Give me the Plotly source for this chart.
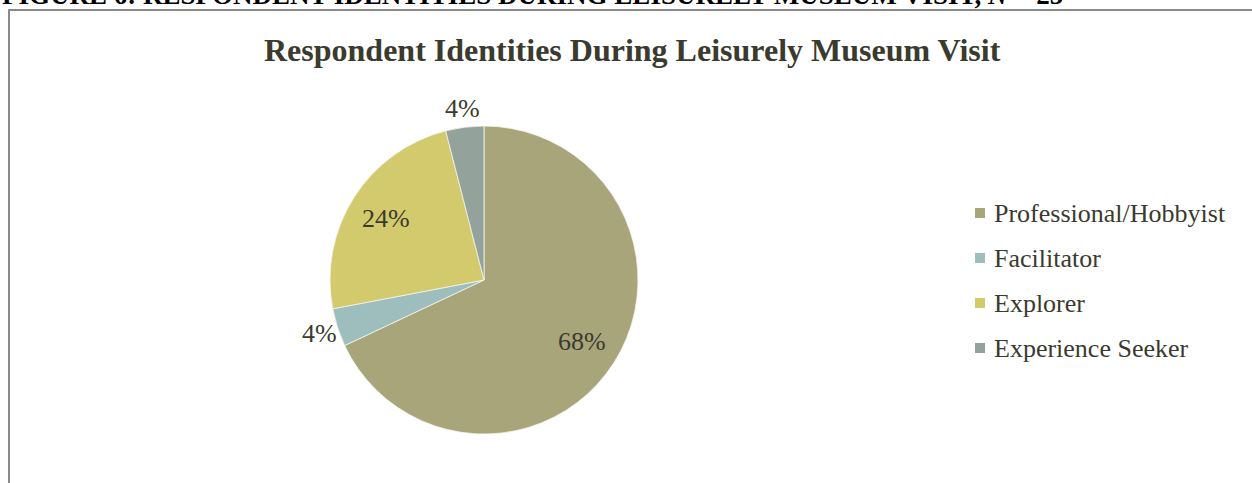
import math
import plotly.graph_objects as go

# Respondent identities (n = 25)
identities = ["Professional/Hobbyist", "Facilitator", "Explorer", "Experience Seeker"]
counts = [17, 1, 6, 1]
slice_colors = ["#A8A57B", "#9EBEBE", "#D2CA6C", "#93A29B"]
label_inside = [True, False, True, False]

W, H = 1252, 483
SERIF = "Liberation Serif, Times New Roman, serif"
TEXT_COLOR = "#3A3A2E"

# Pie placement in page pixels
CX, CY, R = 484, 280, 154


def px_x(x):
    return x / W


def px_y(y):
    return 1 - y / H


fig = go.Figure()
fig.add_trace(go.Pie(
    labels=identities,
    values=counts,
    sort=False,
    direction="clockwise",
    rotation=0,
    marker=dict(colors=slice_colors, line=dict(color="#F4F4EC", width=0.8)),
    textinfo="none",
    domain=dict(x=[px_x(CX - R), px_x(CX + R)], y=[px_y(CY + R), px_y(CY - R)]),
    hoverinfo="label+percent",
    showlegend=False,
))

annotations = []

# Percentage labels placed along each slice's mid-angle
total = sum(counts)
start = 0.0
for value, inside in zip(counts, label_inside):
    share = value / total
    mid = (start + share / 2) * 2 * math.pi  # clockwise from 12 o'clock
    dist = 0.75 * R if inside else 1.125 * R
    lx = CX + dist * math.sin(mid)
    ly = CY - dist * math.cos(mid)
    annotations.append(dict(
        text=f"{round(share * 100)}%",
        x=px_x(lx), y=px_y(ly), xref="paper", yref="paper",
        xanchor="center", yanchor="middle", showarrow=False,
        font=dict(family=SERIF, size=26, color=TEXT_COLOR),
    ))
    start += share

# Legend: colour swatch and label per identity
shapes = []
LEG_X, LEG_Y0, LEG_DY, SW = 975, 213, 45, 10
for i, (name, color) in enumerate(zip(identities, slice_colors)):
    cy = LEG_Y0 + i * LEG_DY
    shapes.append(dict(
        type="rect", xref="paper", yref="paper",
        x0=px_x(LEG_X), x1=px_x(LEG_X + SW),
        y0=px_y(cy + SW / 2), y1=px_y(cy - SW / 2),
        fillcolor=color, line=dict(width=0),
    ))
    annotations.append(dict(
        text=name, x=px_x(LEG_X + SW + 7), y=px_y(cy), xref="paper", yref="paper",
        xanchor="left", yanchor="middle", showarrow=False,
        font=dict(family=SERIF, size=26, color=TEXT_COLOR),
    ))

# Chart frame
shapes.append(dict(
    type="rect", xref="paper", yref="paper",
    x0=px_x(9), x1=px_x(1262), y0=px_y(500), y1=px_y(10),
    line=dict(color="#8A8A8A", width=2), fillcolor="rgba(0,0,0,0)",
    layer="below",
))

annotations += [
    dict(
        text="<b>Respondent Identities During Leisurely Museum Visit</b>",
        x=px_x(632), y=px_y(50), xref="paper", yref="paper",
        xanchor="center", yanchor="middle", showarrow=False,
        font=dict(family=SERIF, size=32, color=TEXT_COLOR),
    ),
    dict(
        text="<b>FIGURE 6: RESPONDENT IDENTITIES DURING LEISURELY MUSEUM VISIT, <i>N</i> = 25</b>",
        x=px_x(0), y=px_y(12), xref="paper", yref="paper",
        xanchor="left", yanchor="bottom", showarrow=False,
        font=dict(family=SERIF, size=27, color="#000000"),
    ),
]

fig.update_layout(
    width=W,
    height=H,
    margin=dict(l=0, r=0, t=0, b=0),
    paper_bgcolor="white",
    plot_bgcolor="white",
    showlegend=False,
    annotations=annotations,
    shapes=shapes,
)

fig.write_html("out.html")
